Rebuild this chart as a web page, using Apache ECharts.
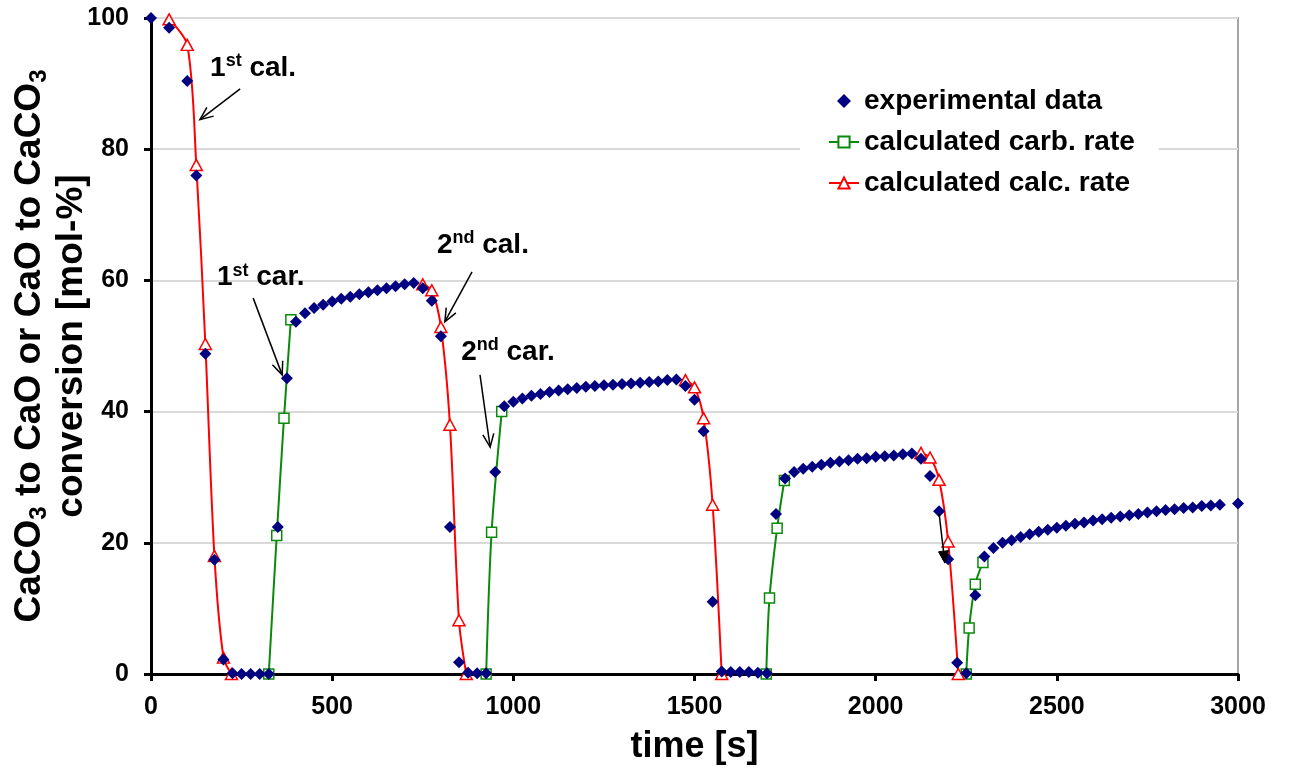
<!DOCTYPE html>
<html>
<head>
<meta charset="utf-8">
<script src="https://cdn.jsdelivr.net/npm/echarts@6/dist/echarts.min.js"></script>
<style>
  html, body { margin: 0; padding: 0; background: #fff; }
  #chart { width: 1289px; height: 769px; }
</style>
</head>
<body>
<div id="chart"></div>
<script>
// Measured conversion during calcination / carbonation cycles
const expTime = [0, 50, 100, 125, 150, 175, 200, 225, 250, 275, 300, 325, 350, 375, 400, 425, 450, 475, 500,
  525, 550, 575, 600, 625, 650, 675, 700, 725, 750, 775, 800, 825, 850, 875, 900, 925, 950, 975, 1000,
  1025, 1050, 1075, 1100, 1125, 1150, 1175, 1200, 1225, 1250, 1275, 1300, 1325, 1350, 1375, 1400, 1425,
  1450, 1475, 1500, 1525, 1550, 1575, 1600, 1625, 1650, 1675, 1700, 1725, 1750, 1775, 1800, 1825, 1850,
  1875, 1900, 1925, 1950, 1975, 2000, 2025, 2050, 2075, 2100, 2125, 2150, 2175, 2200, 2225, 2250, 2275,
  2300, 2325, 2350, 2375, 2400, 2425, 2450, 2475, 2500, 2525, 2550, 2575, 2600, 2625, 2650, 2675, 2700,
  2725, 2750, 2775, 2800, 2825, 2850, 2875, 2900, 2925, 2950, 3000];
const expConv = [100, 98.5, 90.4, 76.0, 48.8, 17.4, 2.2, 0.1, 0.0, 0.0, 0.0, 0.0, 22.4, 45.1, 53.7, 55.0, 55.8, 56.3, 56.8,
  57.2, 57.5, 57.9, 58.2, 58.5, 58.8, 59.1, 59.4, 59.6, 58.8, 56.9, 51.5, 22.4, 1.8, 0.2, 0.1, 0.1, 30.8, 40.8, 41.5,
  42.0, 42.4, 42.7, 43.0, 43.2, 43.4, 43.6, 43.8, 43.9, 44.0, 44.1, 44.2, 44.3, 44.4, 44.5, 44.6, 44.8,
  44.9, 43.9, 41.8, 37.0, 11.0, 0.4, 0.3, 0.3, 0.3, 0.2, 0.1, 24.4, 29.8, 30.8, 31.3, 31.6, 31.9,
  32.2, 32.4, 32.6, 32.8, 32.9, 33.1, 33.2, 33.3, 33.5, 33.6, 32.8, 30.2, 24.8, 17.5, 1.7, 0.1, 12.0,
  17.9, 19.2, 20.0, 20.4, 20.9, 21.3, 21.7, 22.0, 22.3, 22.6, 22.9, 23.1, 23.4, 23.6, 23.8, 24.0, 24.2,
  24.4, 24.6, 24.8, 25.0, 25.1, 25.3, 25.4, 25.6, 25.7, 25.8, 26.0];

// Model: carbonation rate, one segment per carbonation step
const carbTime = [
  [325, 347, 367, 386],
  [925, 940, 968],
  [1698, 1707, 1728, 1748],
  [2250, 2258, 2275, 2296]
];
const carbConv = [
  [0, 21.1, 39.0, 54.0],
  [0, 21.6, 40.0],
  [0, 11.6, 22.2, 29.5],
  [0, 7.0, 13.7, 17.0]
];

// Model: calcination rate, one segment per calcination step
const calcTime = [
  [50, 100, 125, 150, 175, 200, 222],
  [750, 775, 800, 825, 850, 870],
  [1475, 1500, 1525, 1550, 1575],
  [2125, 2150, 2175, 2200, 2228]
];
const calcConv = [
  [99.8, 95.9, 77.6, 50.3, 18.0, 2.5, 0],
  [59.4, 58.5, 52.9, 38.0, 8.2, 0],
  [44.8, 43.7, 39.0, 25.8, 0],
  [33.7, 33.0, 29.6, 20.2, 0]
];

const yTicks = [0, 20, 40, 60, 80, 100];
const xTicks = [0, 500, 1000, 1500, 2000, 2500, 3000];

const seriesNames = ['experimental data', 'calculated carb. rate', 'calculated calc. rate'];

const FONT = 'Arial, "Liberation Sans", sans-serif';
const zip = (a, b) => a.map((t, i) => [t, b[i]]);

const series = [];
carbTime.forEach((t, i) => {
  series.push({
    name: seriesNames[1], type: 'line', smooth: 0.3, z: 3,
    data: zip(t, carbConv[i]),
    symbol: 'rect', symbolSize: 10,
    itemStyle: { color: '#fff', borderColor: '#0a8a0a', borderWidth: 1.5 },
    lineStyle: { color: '#0a8a0a', width: 2 }
  });
});
calcTime.forEach((t, i) => {
  series.push({
    name: seriesNames[2], type: 'line', smooth: 0.3, z: 3,
    data: zip(t, calcConv[i]),
    symbol: 'triangle', symbolSize: [12, 11],
    itemStyle: { color: '#fff', borderColor: '#ff0000', borderWidth: 1.5 },
    lineStyle: { color: '#ff0000', width: 2 }
  });
});
series.push({
  name: seriesNames[0], type: 'scatter', z: 5,
  data: zip(expTime, expConv),
  symbol: 'diamond', symbolSize: 12,
  itemStyle: { color: '#000080', opacity: 1 }
});

const axisCommon = {
  axisLine: { show: true, lineStyle: { color: '#000', width: 3 } },
  axisTick: { show: true, inside: false, length: 7, lineStyle: { color: '#000', width: 3 } },
  axisLabel: { color: '#000', fontFamily: FONT, fontWeight: 'bold', fontSize: 25, formatter: v => String(v) }
};

const chart = echarts.init(document.getElementById('chart'), null, { renderer: 'canvas' });

chart.setOption({
  animation: false,
  backgroundColor: '#fff',
  grid: {
    left: 151, right: 51, top: 18, bottom: 95,
    containLabel: false, outerBoundsMode: 'none',
    show: true, borderColor: '#a6a6a6', borderWidth: 2, backgroundColor: 'transparent'
  },
  legend: {
    data: [
      { name: seriesNames[0], icon: 'path://M6,0L12,6L6,12L0,6Z' },
      { name: seriesNames[1] },
      { name: seriesNames[2] }
    ],
    symbolKeepAspect: true,
    orient: 'vertical',
    left: 800, top: 80,
    padding: [6, 24, 6, 28],
    backgroundColor: '#fff',
    itemWidth: 30, itemHeight: 14, itemGap: 11,
    textStyle: { color: '#000', fontFamily: FONT, fontWeight: 'bold', fontSize: 28, lineHeight: 30 }
  },
  xAxis: Object.assign({}, axisCommon, {
    type: 'value', min: xTicks[0], max: xTicks[xTicks.length - 1], interval: 500,
    splitLine: { show: false },
    axisLabel: Object.assign({}, axisCommon.axisLabel, { margin: 21 }),
    name: 'time [s]', nameLocation: 'middle', nameGap: 55, nameMoveOverlap: false,
    nameTextStyle: { color: '#000', fontFamily: FONT, fontWeight: 'bold', fontSize: 36 }
  }),
  yAxis: Object.assign({}, axisCommon, {
    type: 'value', min: yTicks[0], max: yTicks[yTicks.length - 1], interval: 20,
    splitLine: { show: true, lineStyle: { color: '#d9d9d9', width: 2 } },
    axisLabel: Object.assign({}, axisCommon.axisLabel, { margin: 22 }),
    name: '{n|CaCO}{b|3}{n| to CaO or CaO to CaCO}{b|3}\n{n|conversion [mol-%]}',
    nameLocation: 'middle', nameRotate: 90, nameGap: 58, nameMoveOverlap: false,
    nameTextStyle: {
      color: '#000', fontFamily: FONT, fontWeight: 'bold', fontSize: 37, lineHeight: 42,
      rich: {
        n: { color: '#000', fontFamily: FONT, fontWeight: 'bold', fontSize: 37, lineHeight: 42 },
        b: { color: '#000', fontFamily: FONT, fontWeight: 'bold', fontSize: 24, lineHeight: 22, verticalAlign: 'bottom' }
      }
    }
  }),
  series: series
});

// Annotations: step labels with arrows pointing at the curves (data coordinates)
const notes = [
  { num: '1', sup: 'st', word: ' cal.', at: [163, 92.4], from: [246, 89.2], to: [135, 84.5] },
  { num: '1', sup: 'st', word: ' car.', at: [182, 60.4], from: [282, 57.3], to: [362, 45.6] },
  { num: '2', sup: 'nd', word: ' cal.', at: [789, 65.4], from: [886, 61.3], to: [811, 53.7] },
  { num: '2', sup: 'nd', word: ' car.', at: [856, 49.1], from: [908, 45.6], to: [936, 34.6] }
];
const pointer = { from: [2175, 24.5], to: [2191, 16.9] };

function px(p) { return chart.convertToPixel({ gridIndex: 0 }, p); }

function arrow(fromData, toData, filled) {
  const s = px(fromData), e = px(toData);
  const dx = e[0] - s[0], dy = e[1] - s[1];
  const len = Math.hypot(dx, dy);
  const ux = dx / len, uy = dy / len;
  const hl = filled ? 12 : 13, hw = filled ? 5 : 5.5;
  const p1 = [e[0] - ux * hl + uy * hw, e[1] - uy * hl - ux * hw];
  const p2 = [e[0] - ux * hl - uy * hw, e[1] - uy * hl + ux * hw];
  const out = [];
  out.push({
    type: 'line', z: 10,
    shape: { x1: s[0], y1: s[1], x2: filled ? e[0] - ux * hl * 0.6 : e[0], y2: filled ? e[1] - uy * hl * 0.6 : e[1] },
    style: { stroke: '#000', lineWidth: 1.5 }
  });
  if (filled) {
    out.push({ type: 'polygon', z: 10, shape: { points: [p1, e, p2] }, style: { fill: '#000', stroke: '#000', lineWidth: 1 } });
  } else {
    out.push({ type: 'polyline', z: 10, shape: { points: [p1, e, p2] }, style: { stroke: '#000', lineWidth: 1.5, fill: null } });
  }
  return out;
}

const graphics = [];
notes.forEach(n => {
  const p = px(n.at);
  graphics.push({
    type: 'text', z: 10, x: p[0], y: p[1],
    style: {
      text: '{n|' + n.num + '}{s|' + n.sup + '}{n|' + n.word + '}',
      align: 'left', verticalAlign: 'middle',
      rich: {
        n: { fill: '#000', fontFamily: FONT, fontWeight: 'bold', fontSize: 28, lineHeight: 32 },
        s: { fill: '#000', fontFamily: FONT, fontWeight: 'bold', fontSize: 18, lineHeight: 20, verticalAlign: 'top' }
      }
    }
  });
  graphics.push(...arrow(n.from, n.to, false));
});
graphics.push(...arrow(pointer.from, pointer.to, true));

chart.setOption({ graphic: graphics });
</script>
</body>
</html>
